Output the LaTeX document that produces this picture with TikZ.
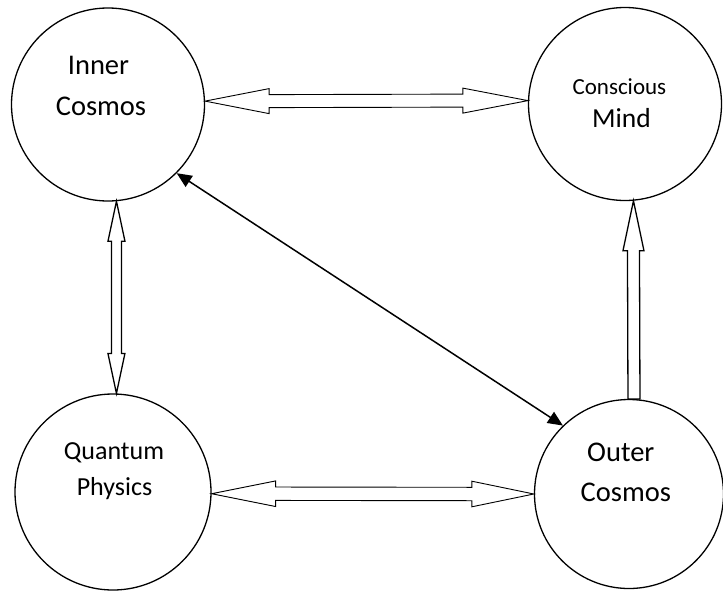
\documentclass[tikz,border=0pt]{standalone}
\usepackage{fontspec}
\setmainfont{Carlito}
\usetikzlibrary{calc,arrows.meta}
\tikzset{
  bubble/.style={circle, draw=black, line width=1.3pt, inner sep=0pt, minimum size=#1},
  lbl/.style={anchor=base, inner sep=0pt, font=\fontsize{#1}{#1}\selectfont},
  blockarrow/.style={draw=black, fill=white, line width=0.9pt, line join=miter},
  vblockarrow/.style={blockarrow, line width=1.3pt},
  thinlink/.style={draw=black, line width=1.5pt, {Triangle[length=15pt,width=13pt]}-{Triangle[length=15pt,width=13pt]}}
}
\begin{document}
\begin{tikzpicture}[x=1pt,y=1pt]
\useasboundingbox (0,0) rectangle (723,-592);
% circles
\node[bubble=193pt] (inner) at (108,-104.5) {};
\node[bubble=193pt] (mind) at (625,-104) {};
\node[bubble=196pt] (quantum) at (113,-492) {};
\node[bubble=189pt] (outer) at (629,-494) {};
% labels
\node[lbl=28.5] (tInner) at (98.5,-74) {Inner};
\node[lbl=28.5] (tCos1) at (101,-115) {Cosmos};
\node[lbl=23] (tConsc) at (619.4,-94.3) {Conscious};
\node[lbl=27.5] (tMind) at (621.5,-127) {Mind};
\node[lbl=26] (tQuant) at (114,-459) {Quantum};
\node[lbl=26] (tPhys) at (114.5,-495) {Physics};
\node[lbl=28.5] (tOuter) at (620.8,-461.7) {Outer};
\node[lbl=28.5] (tCos2) at (625.8,-501.7) {Cosmos};
% top block arrow: inner <-> mind
\coordinate (t1) at (inner.2.26);
\coordinate (t2) at (mind.178.04);
\draw[blockarrow] (t1) -- ++(64,12.5) -- ++(0,-6) -- ($(t2)+(-65,6.5)$) -- ++(0,6) -- (t2)
  -- ++(-65,-12.5) -- ++(0,6) -- ($(t1)+(64,-6.5)$) -- ++(0,-6) -- cycle;
% bottom block arrow: quantum <-> outer
\coordinate (b1) at (quantum.-1.17);
\coordinate (b2) at (outer.180);
\draw[blockarrow] (b1) -- ++(64,12.8) -- ++(0,-6.1) -- ($(b2)+(-62,6.7)$) -- ++(0,6.1) -- (b2)
  -- ++(-62,-12.8) -- ++(0,6.1) -- ($(b1)+(64,-6.7)$) -- ++(0,-6.1) -- cycle;
% left vertical block arrow: inner <-> quantum
\coordinate (v1) at (inner.-85.24);
\coordinate (v2) at (quantum.88.25);
\draw[vblockarrow] (v1) -- ++(8.5,-40) -- ++(-3.5,0) -- ($(v2)+(5,40)$) -- ++(3.5,0) -- (v2)
  -- ++(-8.5,40) -- ++(3.5,0) -- ($(v1)+(-5,-40)$) -- ++(-3.5,0) -- cycle;
% right vertical block arrow: outer -> mind
\coordinate (r1) at (mind.-85.25);
\coordinate (r2) at (outer.87.57);
\draw[vblockarrow] (r1) -- ++(10.5,-50) -- ++(-4.5,0) -- ($(r2)+(6,0)$) -- ($(r2)+(-6,0)$)
  -- ($(r1)+(-6,-50)$) -- ++(-4.5,0) -- cycle;
% diagonal link: inner <-> outer
\draw[thinlink] (inner.-45.2) -- (outer.134.1);
\end{tikzpicture}
\end{document}
